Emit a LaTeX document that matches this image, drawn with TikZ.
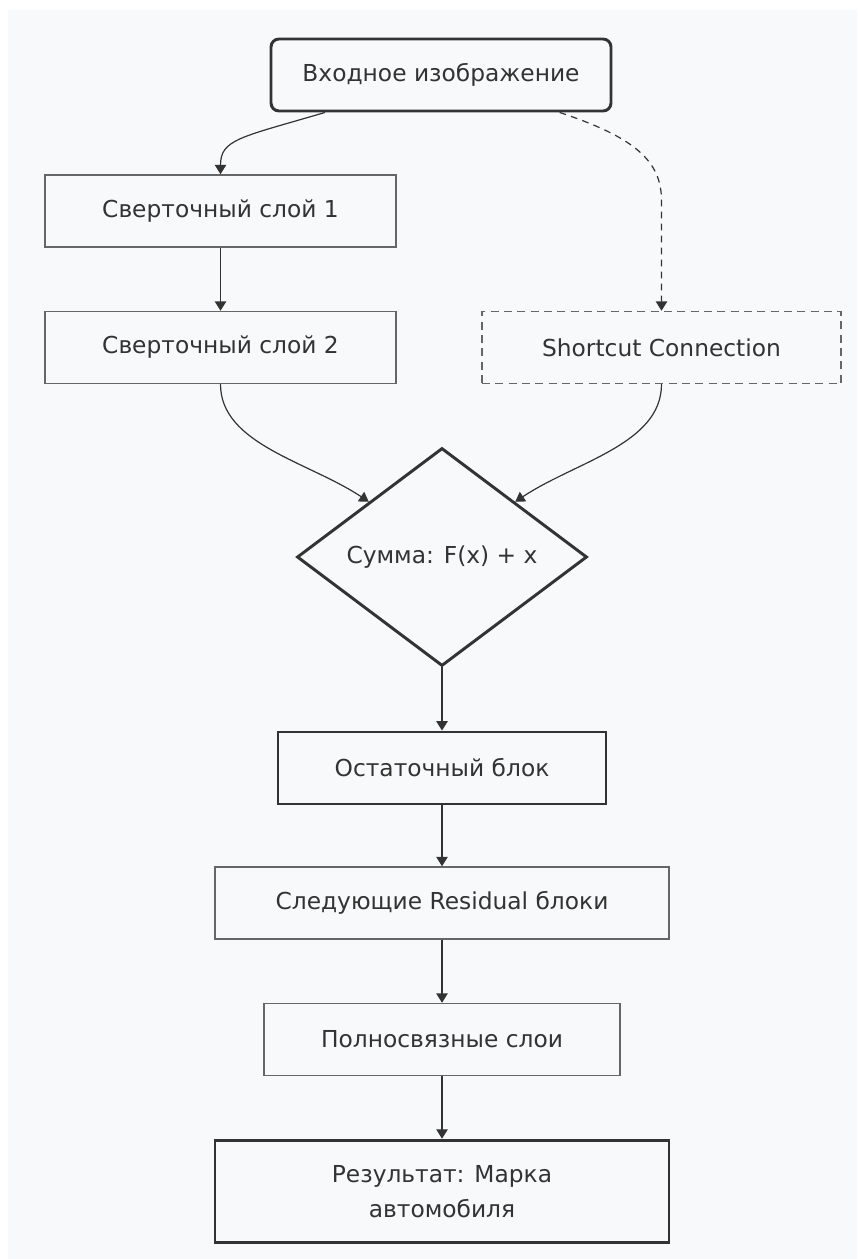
\documentclass[tikz,border=0pt]{standalone}
\usepackage{fontspec}
\setmainfont{DejaVu Sans}
\usetikzlibrary{shapes.geometric}
\usetikzlibrary{arrows.meta}
\usetikzlibrary{calc}
\definecolor{bgfill}{HTML}{F8F9FA}
\definecolor{ink}{HTML}{333333}
\definecolor{rim}{HTML}{666666}
\tikzstyle{block}=[draw=rim, line width=1.1pt, fill=bgfill, text=ink, inner sep=0pt, minimum height=54pt, font=\fontsize{17.5}{26}\selectfont]
\tikzstyle{tblock}=[block, draw=ink, line width=2.2pt]
\tikzstyle{dblock}=[block, dash pattern=on 6pt off 4pt]
\tikzstyle{sumnode}=[block, draw=ink, line width=2.2pt, diamond, minimum width=217.5pt, minimum height=163.5pt]
\tikzstyle{arr}=[draw=ink, line width=0.9pt, -{Triangle[width=8.5pt,length=7pt]}]

\begin{document}
\begin{tikzpicture}[x=0.75pt, y=-0.75pt]
        \useasboundingbox (0, 0) rectangle (857, 1259);
        \fill[bgfill] (8, 10) rectangle (857, 1259);
        \node[tblock, rounded corners=6pt, minimum width=255pt]   (in)    at (441, 75)    {Входное изображение};
        \node[block, minimum width=263.25pt]                      (conv1) at (220.5, 211) {Сверточный слой 1};
        \node[block, minimum width=263.25pt]                      (conv2) at (220.5, 347.5) {Сверточный слой 2};
        \node[dblock, minimum width=269.25pt]                     (short) at (661.5, 347.5) {Shortcut Connection};
        \node[sumnode]                                            (sum)   at (442, 557)   {Сумма: F(x) + x};
        \node[tblock, minimum width=246pt]                        (res)   at (442, 768)   {Остаточный блок};
        \node[block, minimum width=340.5pt]                       (next)  at (442, 903)   {Следующие Residual блоки};
        \node[block, minimum width=267pt]                         (fc)    at (442, 1039.5) {Полносвязные слои};
        \node[tblock, minimum width=340.5pt, minimum height=77pt, align=center] (out) at (442, 1191.5) {Результат: Марка\\автомобиля};
        \draw[arr] ([xshift=-87pt]in.south) .. controls +(-85, 25) and +(0, -35) .. (conv1.north);
        \draw[arr, dash pattern=on 5pt off 4pt] ([xshift=89pt]in.south) .. controls +(75, 25) and +(0, -40) .. ($(short.north)+(0, -110)$) -- (short.north);
        \draw[arr] (conv1) -- (conv2);
        \draw[arr] (conv2.south) .. controls +(0, 60) and +(-60, -40) .. (sum.north west);
        \draw[arr] (short.south) .. controls +(0, 60) and +(60, -40) .. (sum.north east);
        \draw[arr] (sum) -- (res);
        \draw[arr] (res) -- (next);
        \draw[arr] (next) -- (fc);
        \draw[arr] (fc) -- (out);
    \end{tikzpicture}
\end{document}
